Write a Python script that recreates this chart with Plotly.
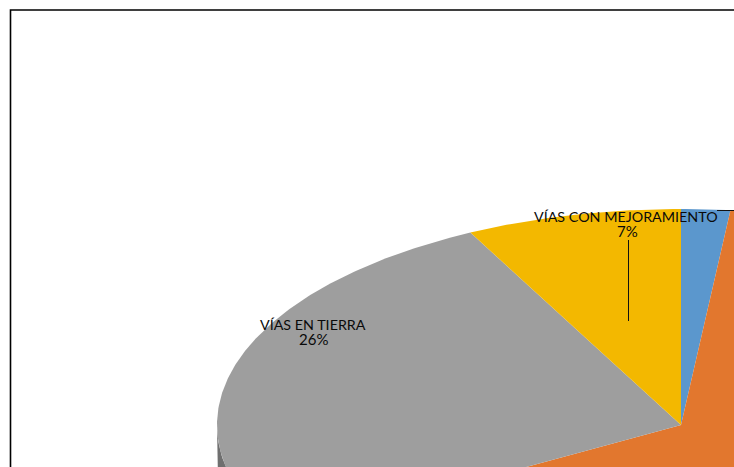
import numpy as np
import plotly.graph_objects as go

# Slices, clockwise from the top of the pie; the first two labels are off the visible crop
categories = ["Otras vías A", "Otras vías B", "VÍAS EN TIERRA", "VÍAS CON MEJORAMIENTO"]
values = [1.7, 64.9, 25.9, 7.5]
colors = ["#5b97cd", "#e2772e", "#9e9e9e", "#f3b800"]
side_color = "#6f6f6f"

CX, CY, RX, RY, DEPTH = 681.0, 425.0, 464.0, 216.0, 60.0
W, H = 734, 467


def ring_point(theta, dy=0.0):
    return CX + RX * np.sin(theta), CY + dy - RY * np.cos(theta)


fig = go.Figure()

# Side wall of the pie: lower half of the ellipse, pushed down by the depth
t = np.linspace(np.pi / 2, 3 * np.pi / 2, 241)
x0, y0 = ring_point(t)
x1, y1 = ring_point(t[::-1], DEPTH)
fig.add_trace(go.Scatter(x=np.r_[x0, x1], y=np.r_[y0, y1], mode="lines", fill="toself",
                         fillcolor=side_color, line=dict(width=0), hoverinfo="skip",
                         showlegend=False))

edges = np.cumsum([0.0] + values) / sum(values) * 2 * np.pi
for name, color, a, b in zip(categories, colors, edges[:-1], edges[1:]):
    t = np.linspace(a, b, max(int((b - a) * 120), 8))
    x, y = ring_point(t)
    fig.add_trace(go.Scatter(x=np.r_[CX, x, CX], y=np.r_[CY, y, CY], mode="lines", fill="toself",
                             fillcolor=color, line=dict(width=0), name=name, showlegend=False,
                             hoverinfo="name"))

# Leader lines
line_style = dict(color="#111111", width=1)
shapes = [
    dict(type="rect", xref="paper", yref="paper", x0=10.5 / W, x1=1.2, y0=-0.2, y1=1 - 10 / H,
         line=dict(color="#000000", width=1.6)),
    dict(type="line", x0=628.5, x1=628.5, y0=240, y1=321, line=line_style),
    dict(type="line", x0=717, x1=734, y0=210.5, y1=210.5, line=line_style),
]

name_font = dict(family="Lato", size=14.3, color="#0a0a0a")
pct_font = dict(family="Lato", size=15, color="#0a0a0a")
texts = [
    (626, 216, "VÍAS CON MEJORAMIENTO", name_font),
    (627, 231, "7%", pct_font),
    (312.5, 324, "VÍAS EN TIERRA", name_font),
    (313, 339, "26%", pct_font),
]
annotations = [dict(x=x, y=y, text=s, showarrow=False, font=f, xanchor="center",
                    yanchor="middle") for x, y, s, f in texts]

fig.update_layout(
    width=W, height=H, margin=dict(l=0, r=0, t=0, b=0),
    paper_bgcolor="white", plot_bgcolor="white",
    xaxis=dict(range=[0, W], visible=False, fixedrange=True),
    yaxis=dict(range=[H, 0], visible=False, fixedrange=True),
    shapes=shapes, annotations=annotations,
)
fig.write_html("out.html", config={"displayModeBar": False},
               post_script="document.body.style.margin='0';document.body.style.overflow='hidden';")
